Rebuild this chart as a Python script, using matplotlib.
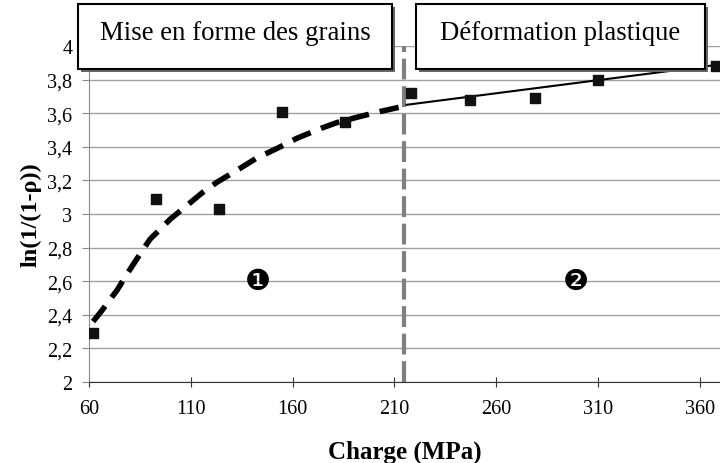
import matplotlib
matplotlib.use("Agg")
import matplotlib.pyplot as plt
from matplotlib.patches import Rectangle

# mesures
charge = [62, 93, 124, 155, 186, 218, 247, 279, 310, 368]
ln_rho = [2.29, 3.09, 3.03, 3.61, 3.55, 3.72, 3.68, 3.69, 3.80, 3.88]

# courbe de tendance (zone 1)
curve_x = [62, 66, 74, 78, 85, 90, 100, 106, 116, 123, 134, 142, 154, 162, 174, 182, 193, 203, 216]
curve_y = [2.36, 2.42, 2.55, 2.63, 2.76, 2.85, 2.97, 3.03, 3.13, 3.19, 3.27, 3.33, 3.40, 3.45, 3.51,
           3.545, 3.58, 3.61, 3.645]

# droite (zone 2)
line_x = [216, 370]
line_y = [3.65, 3.89]

limite = 215
zones = [("\u2776", 143, 2.6), ("\u2777", 299, 2.6)]
titres = ["Mise en forme des grains", "Déformation plastique"]

serif = "Liberation Serif"

fig = plt.figure(figsize=(7.2, 4.64), dpi=100)
ax = fig.add_axes([0.1236, 0.1746, 0.8764, 0.7241])

ax.set_xlim(60, 370)
ax.set_ylim(2, 4)
ax.set_xticks(range(60, 361, 50))
ax.set_yticks([2 + 0.2 * i for i in range(11)])
ax.set_yticklabels(["2", "2,2", "2,4", "2,6", "2,8", "3", "3,2", "3,4", "3,6", "3,8", "4"])
for lab in ax.get_xticklabels() + ax.get_yticklabels():
    lab.set_fontfamily(serif)
    lab.set_fontsize(14.5)

ax.grid(axis="y", color="#a0a0a0", lw=1)
ax.set_axisbelow(True)
for s in ["top", "right"]:
    ax.spines[s].set_visible(False)
ax.spines["left"].set_color("#888888")
ax.spines["bottom"].set_color("#333333")
ax.tick_params(axis="x", direction="inout", length=7, color="#333333", pad=9)
ax.tick_params(axis="y", direction="out", length=5, color="#888888", pad=7)

ax.axvline(limite, color="#7f7f7f", lw=3, dashes=(5, 1.6), zorder=2)
ax.plot(curve_x, curve_y, color="black", lw=4, dashes=(3.5, 2), zorder=3)
ax.plot(line_x, line_y, color="black", lw=1.5, zorder=3)
ax.scatter(charge, ln_rho, marker="s", s=55, color="#111111", zorder=4)

for txt, x, y in zones:
    ax.text(x, y, txt, fontsize=21, ha="center", va="center", family="DejaVu Sans")

ax.set_xlabel("Charge (MPa)", family=serif, fontsize=18, fontweight="bold", labelpad=15)
ax.set_ylabel("ln(1/(1-ρ))", family=serif, fontsize=17.5, fontweight="bold", labelpad=4)

# encadrés
W, H = 720, 464
boxes = [(78, 5, 314, 65), (416, 5, 289, 65)]
for (x0, y0, w, h), titre in zip(boxes, titres):
    fx, fy = x0 / W, 1 - (y0 + h) / H
    fw, fh = w / W, h / H
    fig.patches.append(Rectangle((fx + 3 / W, fy - 3 / H), fw, fh, transform=fig.transFigure,
                                 facecolor="#666666", edgecolor="none", zorder=5))
    fig.patches.append(Rectangle((fx, fy), fw, fh, transform=fig.transFigure,
                                 facecolor="white", edgecolor="black", lw=1.5, zorder=6))
    fig.text(fx + fw / 2, fy + fh * 0.56, titre, family=serif, fontsize=19.3,
             ha="center", va="center", zorder=7)

fig.savefig("out.png", dpi=100)
